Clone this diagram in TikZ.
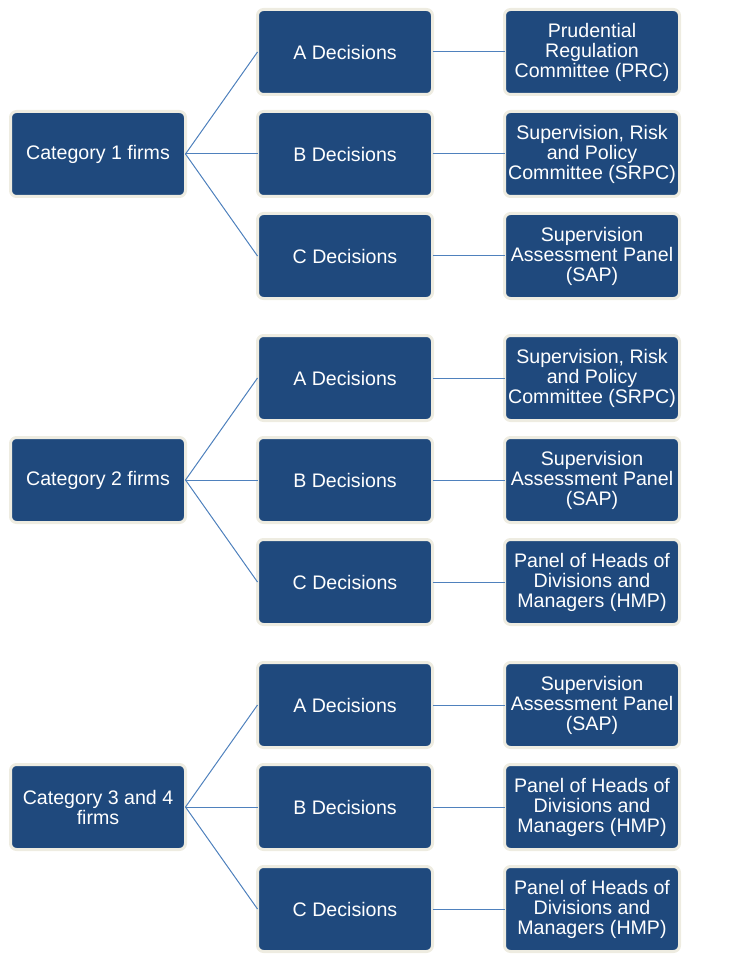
\documentclass[tikz,border=0pt]{standalone}
\usepackage{fontspec}
\setmainfont{Liberation Sans}
\usetikzlibrary{positioning}

\definecolor{boxBlue}{HTML}{1F497D}
\definecolor{boxRim}{HTML}{EEECE1}
\definecolor{linkBlue}{HTML}{4F81BD}

\begin{document}
\begin{tikzpicture}[
  x=0.75pt, y=-0.75pt,
  font=\fontsize{14.7}{15}\selectfont,
  box/.style={
    draw=boxRim, fill=boxBlue, line width=2.25pt, rounded corners=4.5pt,
    minimum width=131.25pt, minimum height=63.75pt,
    inner sep=2pt, outer sep=0pt, text=white, align=center
  },
  category/.style={box},
  decision/.style={box},
  panel/.style={box},
  link/.style={draw=linkBlue, line width=0.75pt},
  node distance=12.75pt and 54pt
]
\useasboundingbox (0,0) rectangle (735,955);

% Category 1
\node[decision] (a1) at (345,52) {A Decisions};
\node[decision, below=of a1] (b1) {B Decisions};
\node[decision, below=of b1] (c1) {C Decisions};
\node[category, left=of b1] (cat1) {Category 1 firms};
\node[panel, right=of a1] (pa1) {Prudential\\Regulation\\Committee (PRC)};
\node[panel, right=of b1] (pb1) {Supervision, Risk\\and Policy\\Committee (SRPC)};
\node[panel, right=of c1] (pc1) {Supervision\\Assessment Panel\\(SAP)};

% Category 2
\node[decision] (a2) at (345,378) {A Decisions};
\node[decision, below=of a2] (b2) {B Decisions};
\node[decision, below=of b2] (c2) {C Decisions};
\node[category, left=of b2] (cat2) {Category 2 firms};
\node[panel, right=of a2] (pa2) {Supervision, Risk\\and Policy\\Committee (SRPC)};
\node[panel, right=of b2] (pb2) {Supervision\\Assessment Panel\\(SAP)};
\node[panel, right=of c2] (pc2) {Panel of Heads of\\Divisions and\\Managers (HMP)};

% Category 3 and 4
\node[decision] (a3) at (345,705) {A Decisions};
\node[decision, below=of a3] (b3) {B Decisions};
\node[decision, below=of b3] (c3) {C Decisions};
\node[category, left=of b3] (cat3) {Category 3 and 4\\firms};
\node[panel, right=of a3] (pa3) {Supervision\\Assessment Panel\\(SAP)};
\node[panel, right=of b3] (pb3) {Panel of Heads of\\Divisions and\\Managers (HMP)};
\node[panel, right=of c3] (pc3) {Panel of Heads of\\Divisions and\\Managers (HMP)};

\draw[link] (cat1.east) -- (a1.west);
\draw[link] (cat1.east) -- (b1.west);
\draw[link] (cat1.east) -- (c1.west);
\draw[link] (a1.east) -- (pa1.west);
\draw[link] (b1.east) -- (pb1.west);
\draw[link] (c1.east) -- (pc1.west);

\draw[link] (cat2.east) -- (a2.west);
\draw[link] (cat2.east) -- (b2.west);
\draw[link] (cat2.east) -- (c2.west);
\draw[link] (a2.east) -- (pa2.west);
\draw[link] (b2.east) -- (pb2.west);
\draw[link] (c2.east) -- (pc2.west);

\draw[link] (cat3.east) -- (a3.west);
\draw[link] (cat3.east) -- (b3.west);
\draw[link] (cat3.east) -- (c3.west);
\draw[link] (a3.east) -- (pa3.west);
\draw[link] (b3.east) -- (pb3.west);
\draw[link] (c3.east) -- (pc3.west);
\end{tikzpicture}
\end{document}
